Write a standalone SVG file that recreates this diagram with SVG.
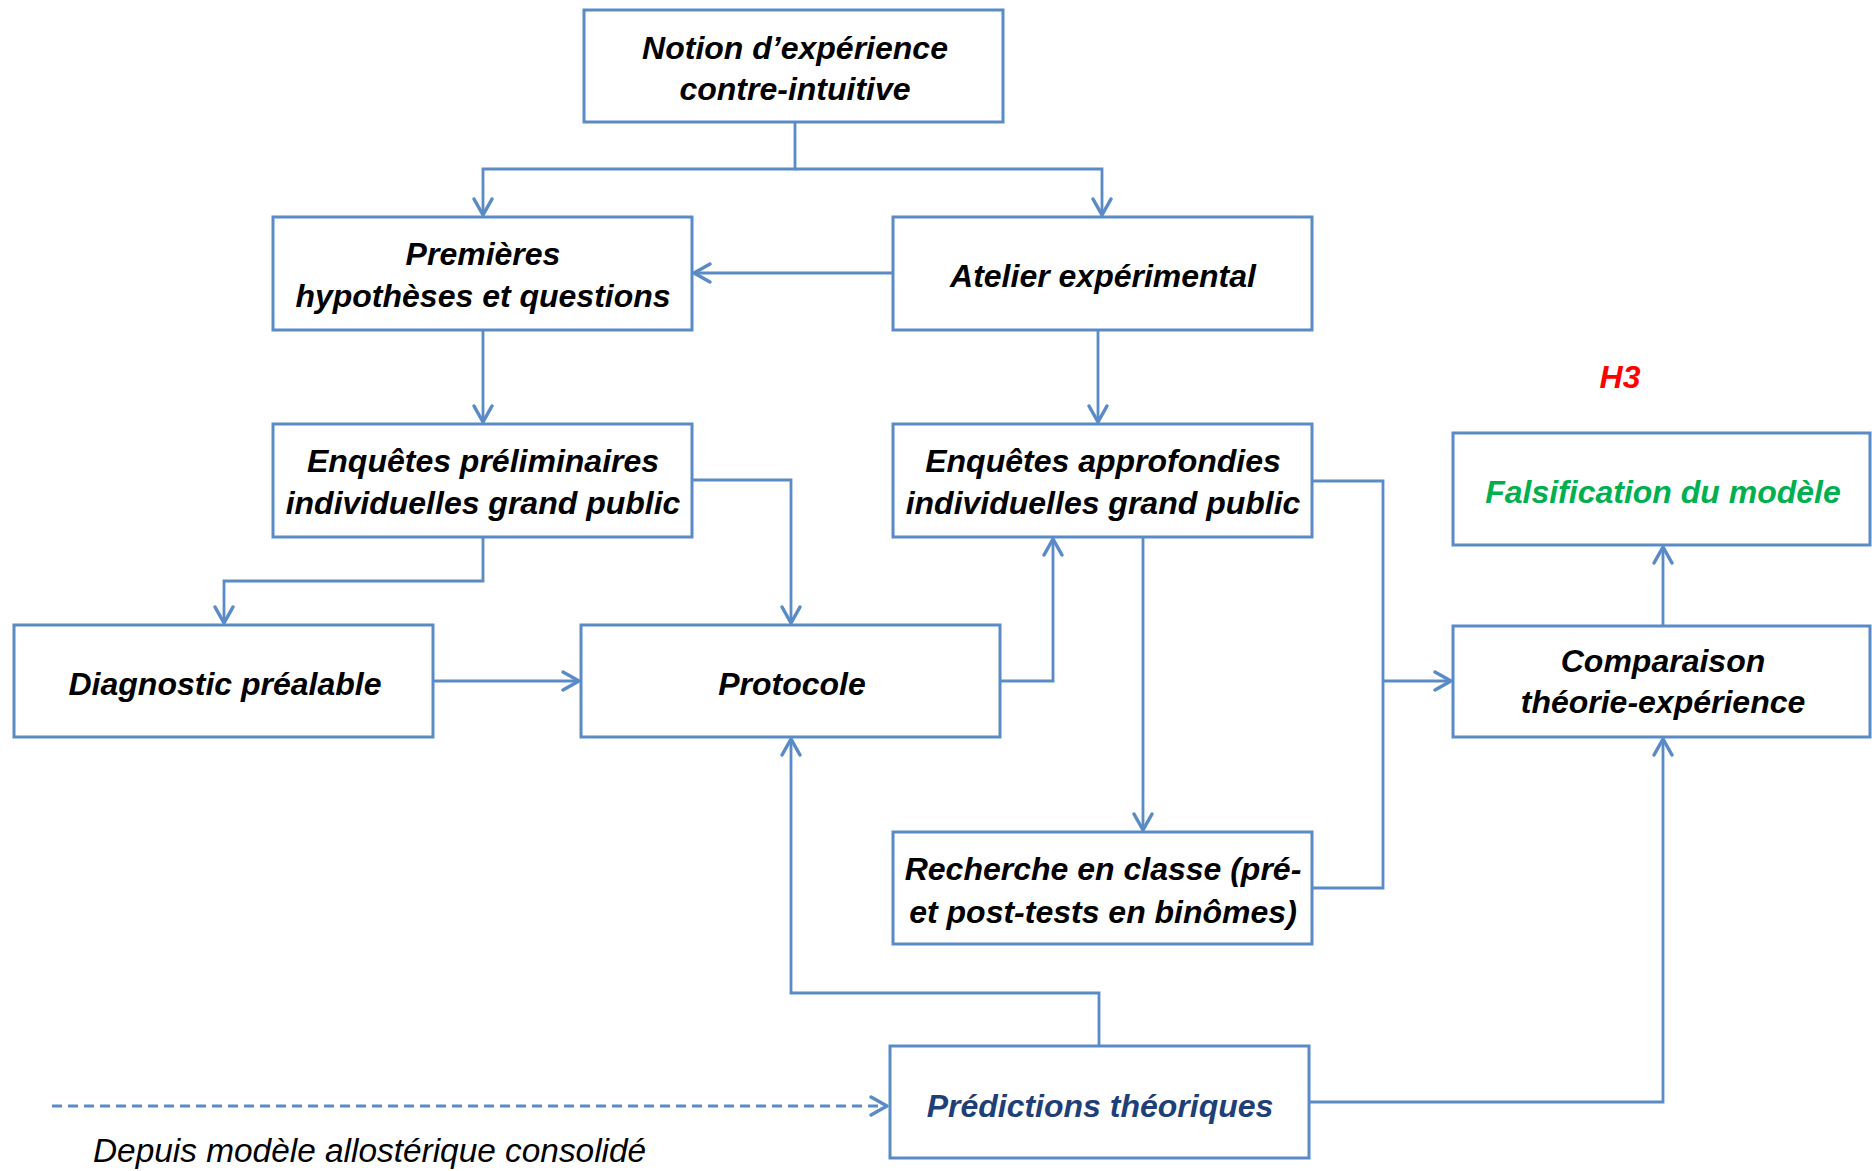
<svg xmlns="http://www.w3.org/2000/svg" width="1872" height="1171" viewBox="0 0 1872 1171">
  <style>
    .box { fill: #ffffff; stroke: #5B8BC7; stroke-width: 3; }
    .lbl { font-family: "Liberation Sans", Arial, sans-serif; font-size: 32px; font-weight: bold; font-style: italic; fill: #000000; text-anchor: middle; }
    .wire { fill: none; stroke: #5B8BC7; stroke-width: 2.8; }
    .dash { stroke-dasharray: 10 6; }
    .note { font-family: "Liberation Sans", Arial, sans-serif; font-size: 33.4px; font-style: italic; fill: #000000; }
  </style>
  <defs>
    <marker id="arrow" markerUnits="userSpaceOnUse" markerWidth="24" markerHeight="24" viewBox="-20 -12 24 24" refX="0" refY="0" orient="auto" overflow="visible">
      <path d="M -16 -9 L 0 0 L -16 9" fill="none" stroke="#5B8BC7" stroke-width="3.5" stroke-linecap="round" stroke-linejoin="round"/>
    </marker>
  </defs>
  <rect width="1872" height="1171" fill="#ffffff"/>

  <g id="connectors">
    <path class="wire" d="M 795 122 V 169 H 483 V 215" marker-end="url(#arrow)"/>
    <path class="wire" d="M 795 169 H 1102 V 215" marker-end="url(#arrow)"/>
    <path class="wire" d="M 893 273 H 694" marker-end="url(#arrow)"/>
    <path class="wire" d="M 483 330 V 422" marker-end="url(#arrow)"/>
    <path class="wire" d="M 1098 330 V 422" marker-end="url(#arrow)"/>
    <path class="wire" d="M 692 480 H 791 V 623" marker-end="url(#arrow)"/>
    <path class="wire" d="M 483 537 V 581 H 224 V 623" marker-end="url(#arrow)"/>
    <path class="wire" d="M 433 681 H 579" marker-end="url(#arrow)"/>
    <path class="wire" d="M 1000 681 H 1053 V 539" marker-end="url(#arrow)"/>
    <path class="wire" d="M 1143 537 V 830" marker-end="url(#arrow)"/>
    <path class="wire" d="M 1312 481 H 1383 V 888 H 1312"/>
    <path class="wire" d="M 1383 681 H 1451" marker-end="url(#arrow)"/>
    <path class="wire" d="M 1099 1046 V 993 H 791 V 739" marker-end="url(#arrow)"/>
    <path class="wire" d="M 1309 1102 H 1663 V 739" marker-end="url(#arrow)"/>
    <path class="wire" d="M 1663 626 V 547" marker-end="url(#arrow)"/>
    <path class="wire dash" d="M 52 1106 H 887" marker-end="url(#arrow)"/>
  </g>

  <g id="notion">
    <rect class="box" x="584" y="10" width="419" height="112"/>
    <text class="lbl" x="795" y="59">Notion d’expérience</text>
    <text class="lbl" x="795" y="100">contre-intuitive</text>
  </g>
  <g id="premieres">
    <rect class="box" x="273" y="217" width="419" height="113"/>
    <text class="lbl" x="483" y="265">Premières</text>
    <text class="lbl" x="483" y="307">hypothèses et questions</text>
  </g>
  <g id="atelier">
    <rect class="box" x="893" y="217" width="419" height="113"/>
    <text class="lbl" x="1103" y="287">Atelier expérimental</text>
  </g>
  <g id="enquetes-preliminaires">
    <rect class="box" x="273" y="424" width="419" height="113"/>
    <text class="lbl" x="483" y="472">Enquêtes préliminaires</text>
    <text class="lbl" x="483" y="514">individuelles grand public</text>
  </g>
  <g id="enquetes-approfondies">
    <rect class="box" x="893" y="424" width="419" height="113"/>
    <text class="lbl" x="1103" y="472">Enquêtes approfondies</text>
    <text class="lbl" x="1103" y="514">individuelles grand public</text>
  </g>
  <g id="h3">
    <text class="lbl" x="1620" y="388" style="fill:#FF0000">H3</text>
  </g>
  <g id="falsification">
    <rect class="box" x="1453" y="433" width="417" height="112"/>
    <text class="lbl" x="1663" y="503" style="fill:#00B050">Falsification du modèle</text>
  </g>
  <g id="diagnostic">
    <rect class="box" x="14" y="625" width="419" height="112"/>
    <text class="lbl" x="225" y="695">Diagnostic préalable</text>
  </g>
  <g id="protocole">
    <rect class="box" x="581" y="625" width="419" height="112"/>
    <text class="lbl" x="792" y="695">Protocole</text>
  </g>
  <g id="comparaison">
    <rect class="box" x="1453" y="626" width="417" height="111"/>
    <text class="lbl" x="1663" y="672">Comparaison</text>
    <text class="lbl" x="1663" y="713">théorie-expérience</text>
  </g>
  <g id="recherche">
    <rect class="box" x="893" y="832" width="419" height="112"/>
    <text class="lbl" x="1103" y="880">Recherche en classe (pré-</text>
    <text class="lbl" x="1103" y="923">et post-tests en binômes)</text>
  </g>
  <g id="predictions">
    <rect class="box" x="890" y="1046" width="419" height="112"/>
    <text class="lbl" x="1100" y="1117" style="fill:#1F3F78">Prédictions théoriques</text>
  </g>
  <g id="source-note">
    <text class="note" x="93" y="1162">Depuis modèle allostérique consolidé</text>
  </g>
</svg>
